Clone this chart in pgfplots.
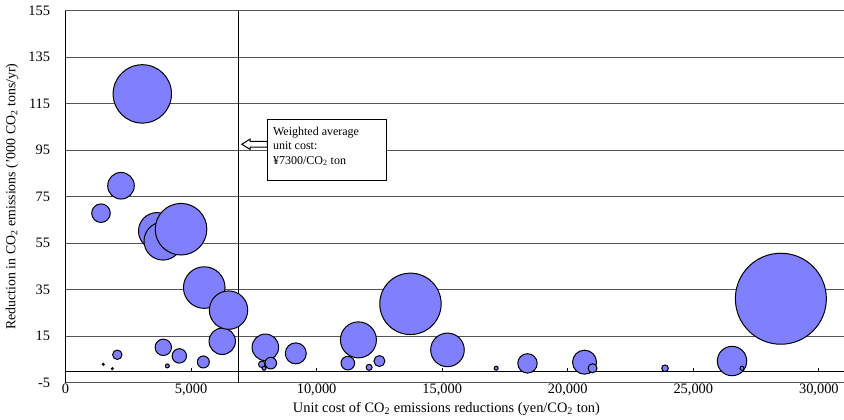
\documentclass[border=0pt]{standalone}
\usepackage{fontspec}
\setmainfont{Liberation Serif}
\usepackage{pgfplots}
\usepackage{pgfplotstable}
\pgfplotsset{compat=1.18}
\definecolor{bub}{RGB}{128,128,255}
\definecolor{grd}{RGB}{85,85,85}

\pgfplotstableread{
x y r
1414 67.9 9.3
1506 2.9 1.0
1865 1.0 1.0
2064 7.0 4.7
2211 79.7 13.3
3060 119.2 29.2
3645 60.2 18.5
3884 55.9 19.0
3896 10.2 8.2
4056 2.2 2.0
4534 6.5 7.2
4602 61.0 25.8
5490 3.9 6.0
5526 35.9 20.8
6243 12.8 13.2
6494 26.2 19.2
7817 2.9 3.3
7908 1.2 2.0
7960 10.2 13.3
8175 3.4 5.8
9171 7.6 10.5
11243 3.4 6.8
11665 13.4 18.0
12092 1.6 3.0
12502 4.3 5.5
13737 28.9 30.7
15211 9.1 16.8
17151 1.2 2.0
18398 3.3 9.7
20669 3.8 12.0
20988 1.2 4.5
23873 1.2 3.3
26542 4.3 14.7
26940 1.2 2.0
28486 31.1 45.5
}\bubbles

\begin{document}
\begin{tikzpicture}
\useasboundingbox (-49.1pt,-28pt) rectangle (583.9pt,287pt);
\begin{axis}[
  at={(0pt,0pt)}, anchor=south west, scale only axis,
  width=583.9pt, height=279pt,
  xmin=0, xmax=31000, ymin=-5, ymax=155,
  xtick={0,5000,...,30000}, ytick={-5,15,...,155},
  axis line style={draw=none}, tick style={draw=none},
  ymajorgrids, grid style={grd, line width=0.75pt},
  /pgf/number format/assume math mode=true,
  /pgf/number format/1000 sep={,},
  scaled x ticks=false,
  ticklabel style={font=\fontsize{10.8}{12}\selectfont},
  xticklabel style={yshift=2.5pt},
  yticklabel style={xshift=-8pt},
  clip=false,
]
\draw[black, line width=0.75pt] (axis cs:0,0) -- (axis cs:31000,0);
\pgfplotsinvokeforeach{5000,10000,15000,20000,25000,30000}{
  \draw[black, line width=0.75pt] (axis cs:#1,0) -- ++(0pt,2.5pt);
}
\addplot[only marks, mark=*, mark options={draw=black, fill=bub, line width=0.75pt},
  scatter,
  visualization depends on={\thisrow{r} \as \rad},
  scatter/@pre marker code/.code={\pgfmathsetmacro\ms{\rad*0.75}\scope[mark size=\ms pt]},
  scatter/@post marker code/.code={\endscope}]
  table[x=x, y=y] {\bubbles};
\draw[black, line width=0.75pt] (axis cs:0,-5) -- (axis cs:0,155);
\draw[black, line width=0.75pt] (axis cs:6900,-5) -- (axis cs:6900,155);
\end{axis}
% annotation box
\draw[black, line width=0.75pt, fill=white] (151.4pt,151.5pt) rectangle (240.9pt,197pt);
\node[anchor=north west, align=left, inner sep=0pt, font=\fontsize{9}{11}\selectfont]
  at (155.5pt,192pt) {Weighted average\\unit cost:\\¥7300/CO\textsubscript{2} ton};
\draw[black, line width=0.75pt, fill=white]
  (132.2pt,178.8pt) -- (138.4pt,182.6pt) -- (138.4pt,180.9pt) -- (151.4pt,180.9pt)
  -- (151.4pt,176.7pt) -- (138.4pt,176.7pt) -- (138.4pt,175.0pt) -- cycle;
% axis labels
\node[font=\fontsize{10.8}{12}\selectfont] at (285.75pt,-19.7pt)
  {Unit cost of CO\textsubscript{2} emissions reductions (yen/CO\textsubscript{2} ton)};
\node[font=\fontsize{10.4}{12}\selectfont, rotate=90] at (-40.1pt,139.6pt)
  {Reduction in CO\textsubscript{2} emissions ('000 CO\textsubscript{2} tons/yr)};
\end{tikzpicture}
\end{document}
